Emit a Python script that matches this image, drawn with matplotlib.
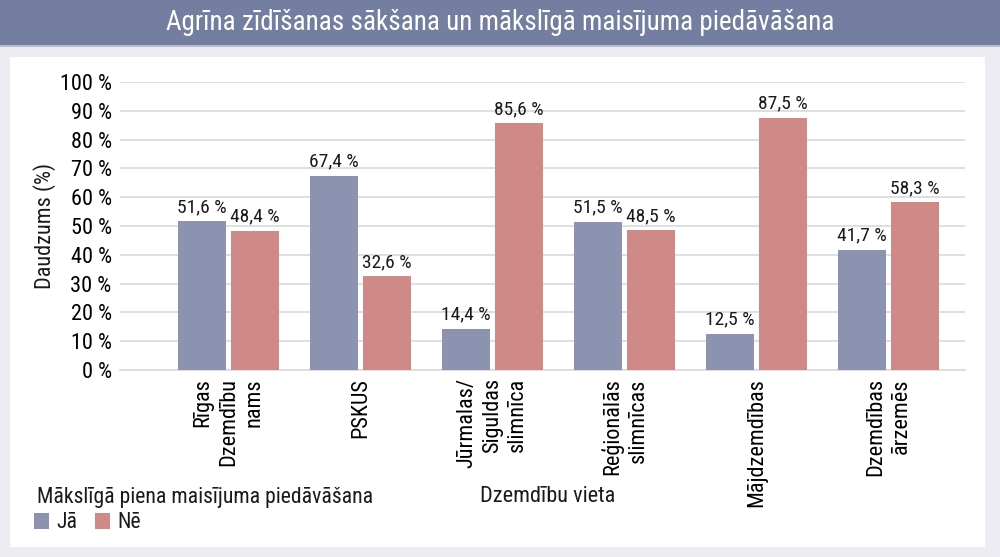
import matplotlib
matplotlib.use('Agg')
import matplotlib.pyplot as plt
import numpy as np
from matplotlib.patches import Rectangle

# dati
vietas = ['Rīgas\nDzemdību\nnams', 'PSKUS', 'Jūrmalas/\nSiguldas\nslimnīca',
          'Reģionālās\nslimnīcas', 'Mājdzemdības', 'Dzemdības\nārzemēs']
ja = [51.6, 67.4, 14.4, 51.5, 12.5, 41.7]
ne = [48.4, 32.6, 85.6, 48.5, 87.5, 58.3]
y_ticks = [0, 10, 20, 30, 40, 50, 60, 70, 80, 90, 100]

c_ja = '#8c93b1'
c_ne = '#cf8986'
c_head = '#747ea1'

plt.rcParams['font.family'] = ['Roboto Condensed', 'DejaVu Sans']
plt.rcParams['text.color'] = '#1a1a1a'

fig = plt.figure(figsize=(10, 5.57), dpi=100)
fig.patch.set_facecolor('#ececf2')

# header bar + white panel (behind the axes)
fig.add_artist(Rectangle((0, 1 - 45 / 557), 1, 45 / 557, transform=fig.transFigure,
                         facecolor=c_head, edgecolor='none', zorder=-5))
fig.add_artist(Rectangle((0, 1 - 47 / 557), 1, 2 / 557, transform=fig.transFigure,
                         facecolor='#b8bccd', edgecolor='none', zorder=-5))
fig.add_artist(Rectangle((10 / 1000, 10 / 557), 975 / 1000, 490 / 557, transform=fig.transFigure,
                         facecolor='white', edgecolor='none', zorder=-5))
fig.text(0.5, 1 - 23 / 557, 'Agrīna zīdīšanas sākšana un mākslīgā maisījuma piedāvāšana',
         ha='center', va='center', color='white', fontsize=19.5)

ax = fig.add_axes([120 / 1000, 1 - 370 / 557, 845 / 1000, 288 / 557])
ax.set_facecolor('white')

x = np.arange(len(vietas))
w = 0.364
gap = 0.019
b1 = ax.bar(x - w / 2 - gap, ja, w, color=c_ja, label='Jā', zorder=3)
b2 = ax.bar(x + w / 2 + gap, ne, w, color=c_ne, label='Nē', zorder=3)

for bars, vals in ((b1, ja), (b2, ne)):
    for r, v in zip(bars, vals):
        ax.text(r.get_x() + r.get_width() / 2, v + 1.8, f'{v:.1f} %'.replace('.', ','),
                ha='center', va='bottom', fontsize=14)

ax.set_ylim(0, 100)
ax.set_xlim(-0.82, 5.58)
ax.set_yticks(y_ticks)
ax.set_yticklabels([f'{t} %' for t in y_ticks], fontsize=16)
ax.yaxis.grid(True, color='#d9d9d9', linewidth=1.2, zorder=0)
ax.set_xticks(x)
ax.set_xticklabels(vietas, rotation=90, fontsize=16, ma='right', linespacing=1.28)
ax.tick_params(length=0, pad=6)
for s in ['top', 'right', 'left']:
    ax.spines[s].set_visible(False)
ax.spines['bottom'].set_color('#d9d9d9')
ax.spines['bottom'].set_linewidth(1.2)

fig.text(45 / 1000, 1 - 226 / 557, 'Daudzums (%)', rotation=90, ha='center', va='center', fontsize=16)
fig.text(548 / 1000, 1 - 497 / 557, 'Dzemdību vieta', ha='center', va='center', fontsize=16)
fig.text(37 / 1000, 1 - 497 / 557, 'Mākslīgā piena maisījuma piedāvāšana', ha='left', va='center', fontsize=15.7)

leg = fig.legend(handles=[b1, b2], loc='center left', bbox_to_anchor=(14 / 1000, 1 - 523 / 557),
                 ncol=2, frameon=False, fontsize=15.7, handlelength=0.7, handleheight=0.7,
                 handletextpad=0.35, columnspacing=0.8)

fig.savefig('out.png', dpi=100, facecolor=fig.get_facecolor())
